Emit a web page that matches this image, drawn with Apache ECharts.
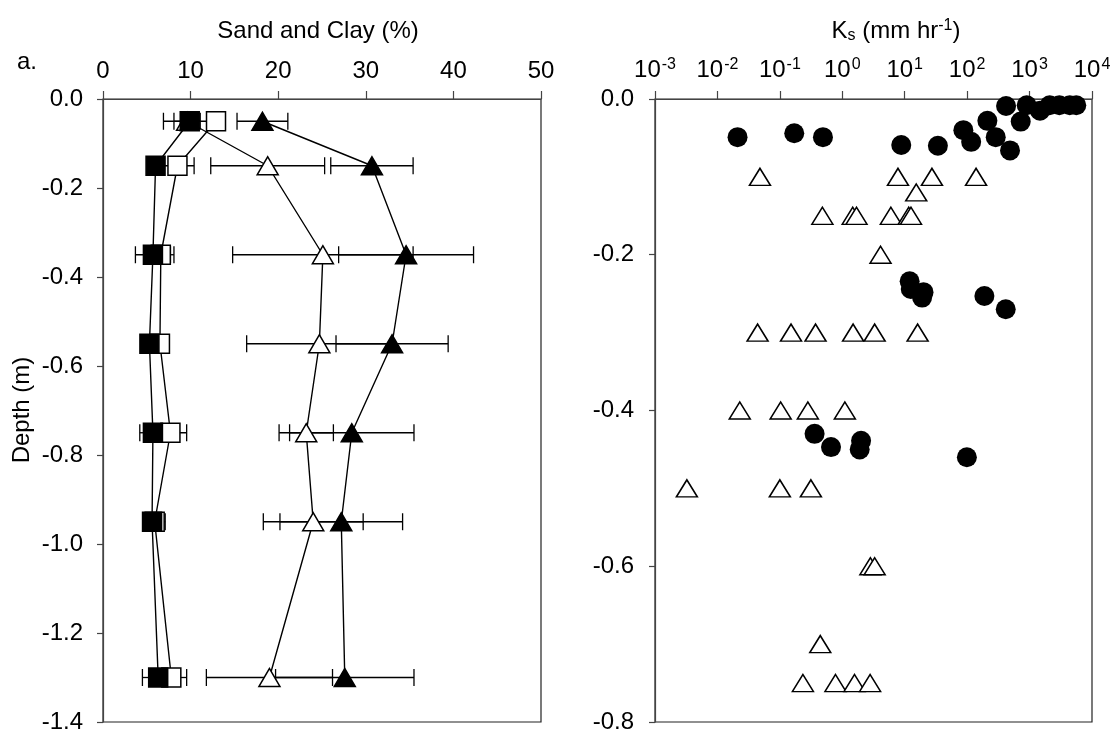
<!DOCTYPE html>
<html>
<head>
<meta charset="utf-8">
<script src="https://cdn.jsdelivr.net/npm/echarts@6/dist/echarts.min.js"></script>
<style>
  html, body { margin: 0; padding: 0; background: #fff; }
  #chart { width: 1117px; height: 736px; }
</style>
</head>
<body>
<div id="chart"></div>
<script>
// ---- Panel a: texture profiles (depth in m, percentages) ----
const textureDepths = [-0.05, -0.15, -0.35, -0.55, -0.75, -0.95, -1.3];

const clayFilled    = [9.9, 6.0, 5.7, 5.3, 5.7, 5.6, 6.3];
const clayFilledErr = [3.0, 0.5, 2.0, 0.4, 1.5, 0.9, 1.8];
const clayOpen      = [12.9, 8.5, 6.6, 6.5, 7.7, 5.9, 7.8];
const clayOpenErr   = [0.8, 1.9, 1.5, 0.5, 1.85, 1.2, 1.75];
const sandOpen      = [9.6, 18.8, 25.1, 24.7, 23.2, 24.0, 19.0];
const sandOpenErr   = [1.5, 6.5, 10.3, 8.3, 3.1, 5.7, 7.2];
const sandFilled    = [18.2, 30.7, 34.6, 33.0, 28.4, 27.2, 27.6];
const sandFilledErr = [2.9, 4.7, 7.7, 6.4, 7.1, 7.0, 7.9];

const pctTicks = [0, 10, 20, 30, 40, 50];

// ---- Panel b: saturated hydraulic conductivity (mm/hr) vs depth (m) ----
const ksCircleK = [0.021, 0.17, 0.49, 8.8, 34, 87, 116, 211, 287, 486,
                   420, 721, 900, 1470, 2100, 3000, 4400, 5600,
                   12, 12.5, 20, 19, 189, 415,
                   0.36, 0.66, 2.0, 1.9, 99];
const ksCircleDepth = [-0.049, -0.044, -0.049, -0.059, -0.060, -0.040, -0.055, -0.028, -0.049, -0.066,
                       -0.009, -0.029, -0.008, -0.015, -0.008, -0.008, -0.008, -0.008,
                       -0.234, -0.244, -0.248, -0.255, -0.253, -0.270,
                       -0.430, -0.447, -0.439, -0.450, -0.460];

const ksTriK = [0.048, 7.8, 27.3, 139,
                15.3,
                0.48, 1.47, 1.69, 6.0, 11.6, 12.6,
                4.1,
                0.044, 0.151, 0.373, 1.49, 3.3, 16.1,
                0.0228, 0.103, 0.281, 1.10,
                0.00324, 0.1, 0.314,
                2.82, 3.3,
                0.444,
                0.234, 0.778, 1.57, 2.79];
const ksTriDepth = [-0.1, -0.1, -0.1, -0.1,
                    -0.12,
                    -0.15, -0.15, -0.15, -0.15, -0.15, -0.15,
                    -0.2,
                    -0.3, -0.3, -0.3, -0.3, -0.3, -0.3,
                    -0.4, -0.4, -0.4, -0.4,
                    -0.5, -0.5, -0.5,
                    -0.6, -0.6,
                    -0.7,
                    -0.75, -0.75, -0.75, -0.75];

const FONT = '"Liberation Sans", Arial, sans-serif';
const FS = 24;
const SUP = 16;
const INK = '#000';
const AXIS = '#444';

function pairs(xs, ys) { return xs.map((x, i) => [x, ys[i]]); }
function errRows(vals, errs, depths) {
  return vals.map((v, i) => [v - errs[i], v + errs[i], depths[i]]);
}
function depthLabel(v) {
  return Math.abs(v) < 1e-9 ? '0.0' : v.toFixed(1);
}

// horizontal error bar with end caps
function renderErr(params, api) {
  const a = api.coord([api.value(0), api.value(2)]);
  const b = api.coord([api.value(1), api.value(2)]);
  const h = 8.5;
  const st = { stroke: INK, lineWidth: 1.3 };
  return {
    type: 'group',
    children: [
      { type: 'line', shape: { x1: a[0], y1: a[1], x2: b[0], y2: b[1] }, style: st },
      { type: 'line', shape: { x1: a[0], y1: a[1] - h, x2: a[0], y2: a[1] + h }, style: st },
      { type: 'line', shape: { x1: b[0], y1: b[1] - h, x2: b[0], y2: b[1] + h }, style: st }
    ]
  };
}

function errSeries(vals, errs) {
  return {
    type: 'custom', xAxisIndex: 0, yAxisIndex: 0, z: 1,
    renderItem: renderErr, silent: true,
    data: errRows(vals, errs, textureDepths)
  };
}

function profileSeries(vals, symbol, size, filled, z) {
  return {
    type: 'line', xAxisIndex: 0, yAxisIndex: 0, z: z,
    data: pairs(vals, textureDepths),
    symbol: symbol, symbolSize: size, showAllSymbol: true,
    lineStyle: { color: INK, width: 1.4 },
    itemStyle: { color: filled ? INK : '#fff', borderColor: INK, borderWidth: 1.5, opacity: 1 },
    emphasis: { disabled: true },
    animation: false
  };
}

const axisLabelStyle = { fontFamily: FONT, fontSize: FS, color: INK };

const chart = echarts.init(document.getElementById('chart'), null, { renderer: 'canvas' });

chart.setOption({
  animation: false,
  backgroundColor: '#fff',
  grid: [
    { left: 103, top: 99, width: 438, height: 623, show: true, borderColor: '#222', borderWidth: 1.2, containLabel: false },
    { left: 655, top: 99, width: 437, height: 623, show: true, borderColor: '#222', borderWidth: 1.2, containLabel: false }
  ],
  xAxis: [
    {
      gridIndex: 0, type: 'value', position: 'top',
      min: pctTicks[0], max: pctTicks[pctTicks.length - 1], interval: 10,
      axisLine: { show: true, lineStyle: { color: AXIS, width: 1.2 } },
      axisTick: { show: true, inside: false, length: 8, lineStyle: { color: AXIS, width: 1.2 } },
      axisLabel: Object.assign({ margin: 16, showMinLabel: true, showMaxLabel: true }, axisLabelStyle),
      splitLine: { show: false }
    },
    {
      gridIndex: 1, type: 'log', logBase: 10, position: 'top',
      min: 0.001, max: 10000,
      axisLine: { show: true, lineStyle: { color: AXIS, width: 1.2 } },
      axisTick: { show: true, inside: false, length: 8, lineStyle: { color: AXIS, width: 1.2 } },
      minorTick: { show: false },
      axisLabel: Object.assign({
        margin: 16, showMinLabel: true, showMaxLabel: true,
        formatter: v => '10{sup|' + Math.round(Math.log10(v)) + '}',
        rich: { sup: { fontFamily: FONT, fontSize: SUP, color: INK, verticalAlign: 'top', padding: [0, 0, 10, 1] } }
      }, axisLabelStyle),
      splitLine: { show: false }
    }
  ],
  yAxis: [
    {
      gridIndex: 0, type: 'value', min: -1.4, max: 0, interval: 0.2,
      axisLine: { show: true, lineStyle: { color: AXIS, width: 1.2 } },
      axisTick: { show: true, inside: false, length: 6, lineStyle: { color: AXIS, width: 1.2 } },
      axisLabel: Object.assign({ margin: 20, formatter: depthLabel }, axisLabelStyle),
      splitLine: { show: false }
    },
    {
      gridIndex: 1, type: 'value', min: -0.8, max: 0, interval: 0.2,
      axisLine: { show: true, lineStyle: { color: AXIS, width: 1.2 } },
      axisTick: { show: true, inside: false, length: 6, lineStyle: { color: AXIS, width: 1.2 } },
      axisLabel: Object.assign({ margin: 21, formatter: depthLabel }, axisLabelStyle),
      splitLine: { show: false }
    }
  ],
  series: [
    errSeries(clayOpen, clayOpenErr),
    errSeries(clayFilled, clayFilledErr),
    errSeries(sandOpen, sandOpenErr),
    errSeries(sandFilled, sandFilledErr),
    profileSeries(sandOpen, 'triangle', [21, 18], false, 2),
    profileSeries(clayOpen, 'rect', 19, false, 3),
    profileSeries(clayFilled, 'rect', 19, true, 4),
    profileSeries(sandFilled, 'triangle', [21, 18], true, 4),
    {
      type: 'scatter', xAxisIndex: 1, yAxisIndex: 1, z: 3,
      data: pairs(ksTriK, ksTriDepth),
      symbol: 'triangle', symbolSize: [21, 17],
      itemStyle: { color: '#fff', borderColor: INK, borderWidth: 1.5, opacity: 1 },
      emphasis: { disabled: true }
    },
    {
      type: 'scatter', xAxisIndex: 1, yAxisIndex: 1, z: 4,
      data: pairs(ksCircleK, ksCircleDepth),
      symbol: 'circle', symbolSize: 20,
      itemStyle: { color: INK, opacity: 1 },
      emphasis: { disabled: true }
    }
  ],
  graphic: [
    { type: 'text', x: 318, y: 31, style: { text: 'Sand and Clay (%)', font: FS + 'px ' + FONT, fill: INK, align: 'center', verticalAlign: 'middle' } },
    { type: 'text', x: 896, y: 31, style: {
        text: 'K{sub|s} (mm hr{sup|-1})', font: FS + 'px ' + FONT, fill: INK, align: 'center', verticalAlign: 'middle',
        rich: {
          sub: { fontFamily: FONT, fontSize: SUP, verticalAlign: 'bottom', padding: [10, 0, 0, 0] },
          sup: { fontFamily: FONT, fontSize: SUP, verticalAlign: 'top', padding: [0, 0, 10, 0] }
        }
      } },
    { type: 'text', x: 27, y: 62, style: { text: 'a.', font: FS + 'px ' + FONT, fill: INK, align: 'center', verticalAlign: 'middle' } },
    { type: 'text', x: 22, y: 410, rotation: Math.PI / 2, style: { text: 'Depth (m)', font: FS + 'px ' + FONT, fill: INK, align: 'center', verticalAlign: 'middle' } }
  ]
});
</script>
</body>
</html>
